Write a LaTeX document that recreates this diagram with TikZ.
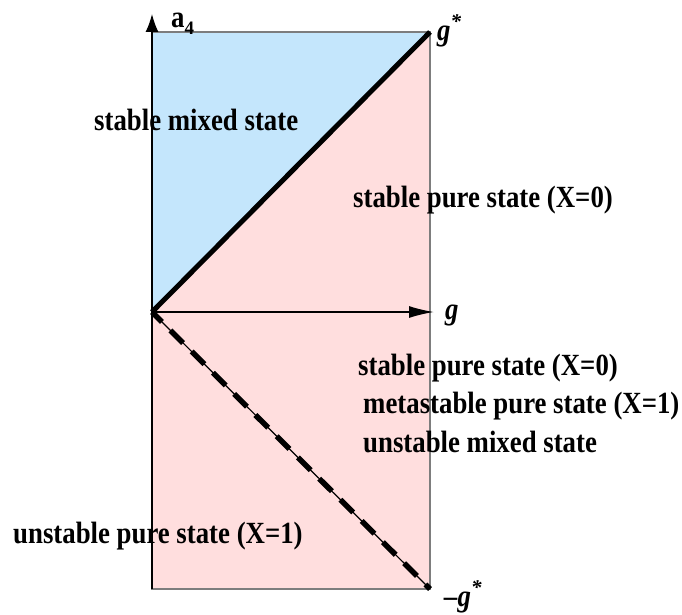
\documentclass[tikz,border=0pt]{standalone}
\usepackage{fontspec}
\usepackage{graphicx}
\setmainfont{Liberation Serif}
\usetikzlibrary{arrows.meta}
\definecolor{mixblue}{RGB}{196,230,252}
\definecolor{purepink}{RGB}{255,222,222}
\definecolor{edgegray}{RGB}{125,125,125}
\newcommand{\tallt}[1]{\scalebox{1}[1.15]{#1}}
\begin{document}
\begin{tikzpicture}[x=1pt,y=-1pt,
  lbl/.style={font=\fontsize{26.8}{30}\selectfont\bfseries, inner sep=0pt, anchor=base west},
  axisline/.style={line width=1.5pt},
  boundary/.style={line width=5pt}]
\useasboundingbox (0,0) rectangle (682,615);
\coordinate (TL) at (152,32);
\coordinate (TR) at (430,32);
\coordinate (O) at (152,312);
\coordinate (BR) at (430,589);
\coordinate (BL) at (152,589);
\coordinate (Ytip) at (152,14);
\coordinate (Xtip) at (434,312);
% regions
\fill[purepink] (TL) rectangle (BR);
\fill[mixblue] (TL) -- (TR) -- (O) -- cycle;
\draw[edgegray, line width=1.5pt] (TL) rectangle (BR);
% axes
\draw[axisline, -{Latex[length=18pt,width=13pt]}] (BL) -- (Ytip);
\draw[axisline, -{Latex[length=25pt,width=12pt]}] (O) -- (Xtip);
% boundaries
\draw[boundary] (O) -- (TR);
\draw[line width=1.2pt] (O) -- (BR);
\draw[line width=5.5pt, dash pattern=on 18pt off 12pt, dash phase=4pt] (O) -- (BR);
% labels
\node[lbl] (a4) at (171,28) {\tallt{a}\raisebox{-7pt}{\fontsize{19}{20}\selectfont 4}};
\node[lbl] (gs) at (437,41) {\itshape \tallt{g}\raisebox{12pt}{\fontsize{21}{20}\selectfont *}};
\node[lbl] (gl) at (445,319) {\itshape \tallt{g}};
\node[lbl] (mgs) at (444,606) {\itshape \tallt{–g}\raisebox{12pt}{\fontsize{21}{20}\selectfont *}};
\node[lbl] (smix) at (94,131) {\tallt{stable mixed state}};
\node[lbl] (spure1) at (353,207) {\tallt{stable pure state (X=0)}};
\node[lbl] (spure2) at (358,375) {\tallt{stable pure state (X=0)}};
\node[lbl] (meta) at (363,413) {\tallt{metastable pure state (X=1)}};
\node[lbl] (umix) at (363,452) {\tallt{unstable mixed state}};
\node[lbl] (upure) at (13,543) {\tallt{unstable pure state (X=1)}};
\end{tikzpicture}
\end{document}
